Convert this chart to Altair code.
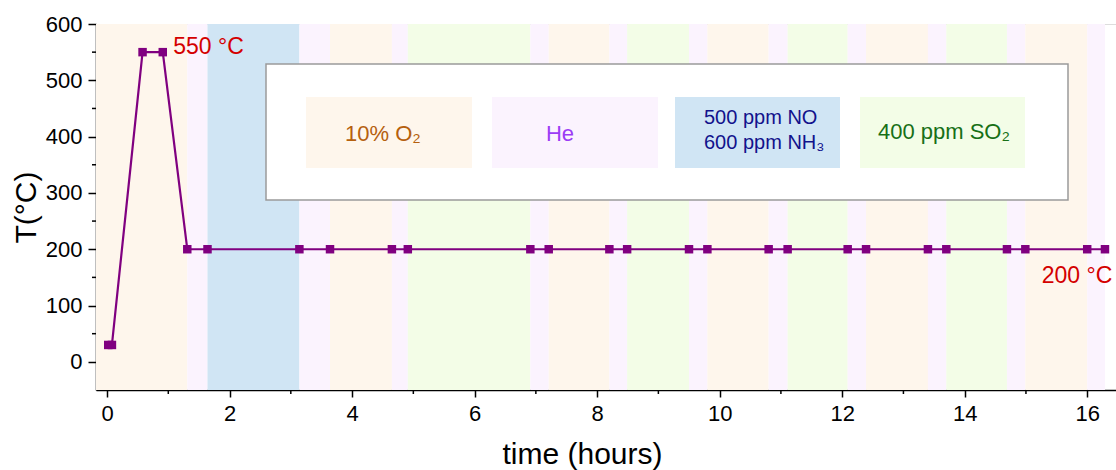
import altair as alt
import pandas as pd

# ---- data ----
time_h = [0.02, 0.08, 0.58, 0.91, 1.31, 1.64, 3.14, 3.64, 4.65, 4.91, 6.91, 7.21,
          8.20, 8.49, 9.50, 9.80, 10.80, 11.11, 12.09, 12.39, 13.40, 13.70, 14.69,
          14.99, 16.00, 16.29]
temp_c = [30, 30, 550, 550, 200, 200, 200, 200, 200, 200, 200, 200, 200, 200, 200,
          200, 200, 200, 200, 200, 200, 200, 200, 200, 200, 200]

band_start = [-0.18, 1.31, 1.64, 3.14, 3.64, 4.65, 4.91, 6.91, 7.21, 8.20, 8.49, 9.50,
              9.80, 10.80, 11.11, 12.09, 12.39, 13.40, 13.70, 14.69, 14.99, 16.00]
band_end = [1.31, 1.64, 3.14, 3.64, 4.65, 4.91, 6.91, 7.21, 8.20, 8.49, 9.50, 9.80,
            10.80, 11.11, 12.09, 12.39, 13.40, 13.70, 14.69, 14.99, 16.00, 16.29]
band_gas = ["O2", "He", "NO", "He", "O2", "He", "SO2", "He", "O2", "He", "SO2", "He",
            "O2", "He", "SO2", "He", "O2", "He", "SO2", "He", "O2", "He"]

gas_names = ["O2", "He", "NO", "SO2"]
gas_fill = ["#FEF6EC", "#FBF3FE", "#D0E5F4", "#F3FDE7"]

x_ticks = [0, 2, 4, 6, 8, 10, 12, 14, 16]
x_minor = [1, 3, 5, 7, 9, 11, 13, 15]
y_ticks = [0, 100, 200, 300, 400, 500, 600]
y_minor = [50, 150, 250, 350, 450, 550]

ann_t = [1.08, 16.41]
ann_T = [559, 152]
ann_txt = ["550 °C", "200 °C"]

FONT = "Liberation Sans, Arial, Helvetica, sans-serif"
W, H = 1020, 366

pts = pd.DataFrame({"t": time_h, "T": temp_c})
bands = pd.DataFrame({"s": band_start, "e": band_end, "gas": band_gas})
xm = pd.DataFrame({"v": x_minor})
ym = pd.DataFrame({"v": y_minor})
one = pd.DataFrame({"k": [0]})

xscale = alt.Scale(domain=[-0.18, 16.47], nice=False, zero=False)
yscale = alt.Scale(domain=[-50, 600], nice=False, zero=False)
color_scale = alt.Scale(domain=gas_names, range=gas_fill)

xaxis = alt.Axis(values=x_ticks, format="d", title="time (hours)", grid=False, tickSize=7,
                 tickWidth=1.5, tickColor="#000", domainColor="#000", domainWidth=1.5,
                 labelFontSize=22, labelFont=FONT, labelColor="#000", labelPadding=6,
                 titleFont=FONT, titleFontSize=30, titleFontWeight="normal",
                 titleColor="#000", titleX=486, titleY=73, titleBaseline="alphabetic",
                 titleAlign="center", titleAnchor=None)
yaxis = alt.Axis(values=y_ticks, format="d", title="T(°C)", grid=False, tickSize=8,
                 tickWidth=1.5, tickColor="#000", domainColor="#000", domainWidth=1.5,
                 labelFontSize=22, labelFont=FONT, labelColor="#000", labelPadding=6,
                 titleFont=FONT, titleFontSize=30, titleFontWeight="normal",
                 titleColor="#000", titleX=-70, titleY=183, titleAngle=270,
                 titleBaseline="middle", titleAlign="center")

band_layer = alt.Chart(bands).mark_rect(opacity=1).encode(
    x=alt.X("s:Q", scale=xscale, axis=xaxis),
    x2="e:Q",
    y=alt.value(0), y2=alt.value(H),
    color=alt.Color("gas:N", scale=color_scale, legend=None),
)

box = alt.Chart(one).mark_rect(fill="white", stroke="#9a9a9a", strokeWidth=1.5).encode(
    x=alt.value(170), x2=alt.value(972), y=alt.value(40), y2=alt.value(176))


def patch(x0, x1, col):
    return alt.Chart(one).mark_rect(fill=col).encode(
        x=alt.value(x0), x2=alt.value(x1), y=alt.value(73), y2=alt.value(144))


def label(txt, x, y, col, size, align="center"):
    return alt.Chart(one).mark_text(text=txt, color=col, fontSize=size, font=FONT,
                                    align=align, baseline="middle").encode(
        x=alt.value(x), y=alt.value(y))


legend_layers = [
    box,
    patch(210, 376, gas_fill[0]),
    patch(396, 562, gas_fill[1]),
    patch(579, 744, gas_fill[2]),
    patch(764, 929, gas_fill[3]),
    label("10% O₂", 287, 110, "#B5600E", 22),
    label("He", 464, 110, "#9B3CF5", 22),
    label("500 ppm NO", 608, 94, "#12128C", 20, "left"),
    label("600 ppm NH₃", 608, 119, "#12128C", 20, "left"),
    label("400 ppm SO₂", 848, 108, "#177017", 22),
]

line = alt.Chart(pts).mark_line(color="#800080", strokeWidth=2.2).encode(
    x=alt.X("t:Q", scale=xscale), y=alt.Y("T:Q", scale=yscale, axis=yaxis))
marks = alt.Chart(pts).mark_square(color="#800080", size=72, opacity=1).encode(
    x=alt.X("t:Q", scale=xscale), y=alt.Y("T:Q", scale=yscale))

ann_df = pd.DataFrame({"t": ann_t, "T": ann_T, "txt": ann_txt})
ann1 = alt.Chart(ann_df.iloc[[0]]).mark_text(color="#D40000", fontSize=23, font=FONT,
                                             align="left", baseline="middle").encode(
    x=alt.X("t:Q", scale=xscale), y=alt.Y("T:Q", scale=yscale), text="txt:N")
ann2 = alt.Chart(ann_df.iloc[[1]]).mark_text(color="#D40000", fontSize=23, font=FONT,
                                             align="right", baseline="middle").encode(
    x=alt.X("t:Q", scale=xscale), y=alt.Y("T:Q", scale=yscale), text="txt:N")

xminor = alt.Chart(xm).mark_rule(color="#000", strokeWidth=1.5).encode(
    x=alt.X("v:Q", scale=xscale), y=alt.value(H), y2=alt.value(H + 4))
yminor = alt.Chart(ym).mark_rule(color="#000", strokeWidth=1.5).encode(
    y=alt.Y("v:Q", scale=yscale), x=alt.value(-4), x2=alt.value(0))

chart = alt.layer(band_layer, *legend_layers, line, marks, ann1, ann2, xminor, yminor).properties(
    width=W, height=H,
    autosize=alt.AutoSizeParams(type="none"),
    padding={"left": 96, "top": 24, "right": 0, "bottom": 80},
).configure_view(stroke="#555", strokeWidth=1.5).configure(background="white")

chart.save("out.html", embed_options={"renderer": "svg", "actions": False})
